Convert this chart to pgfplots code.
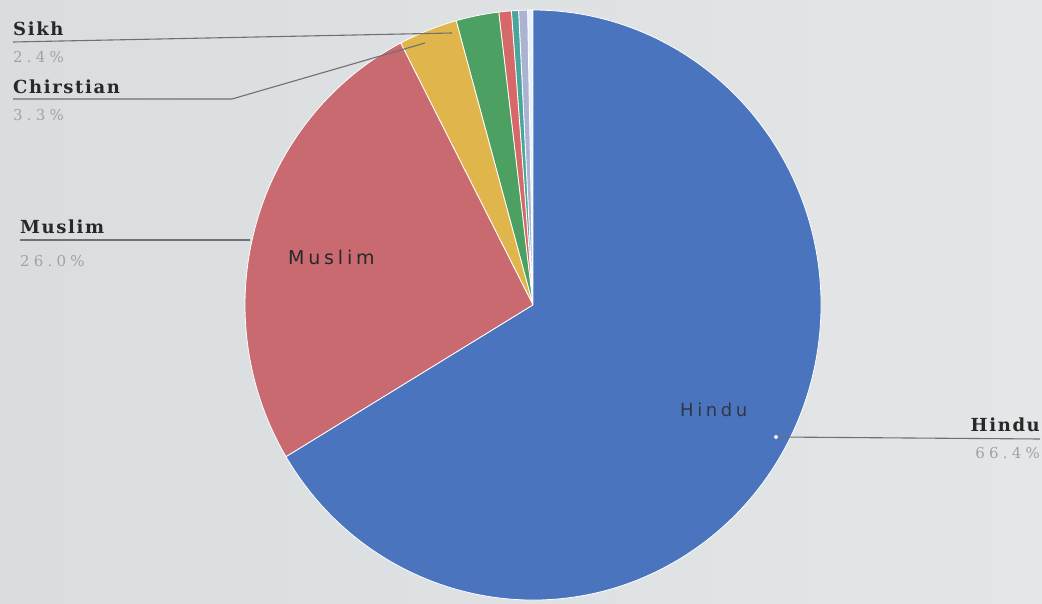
\documentclass[border=0pt]{standalone}
\usepackage{pgfplots}
\usepackage{pgfplotstable}
\usepackage{fontspec}
\pgfplotsset{compat=1.18}
\newfontfamily\headfont[LetterSpace=9]{DejaVu Serif}
\newfontfamily\pctfont[LetterSpace=28]{DejaVu Serif}
\newfontfamily\insidefont[LetterSpace=20]{DejaVu Sans}

\definecolor{bgL}{RGB}{217,221,223}
\definecolor{bgR}{RGB}{228,230,231}
\definecolor{cBlue}{RGB}{74,116,190}
\definecolor{cRed}{RGB}{201,106,112}
\definecolor{cYellow}{RGB}{224,182,76}
\definecolor{cGreen}{RGB}{76,160,98}
\definecolor{cRed2}{RGB}{214,104,104}
\definecolor{cTeal}{RGB}{74,166,156}
\definecolor{cLav}{RGB}{172,178,210}
\definecolor{cLight}{RGB}{236,240,248}
\definecolor{txt}{RGB}{40,40,40}
\definecolor{pct}{RGB}{160,162,164}
\definecolor{lead}{RGB}{110,112,114}

% slices counter-clockwise from 12 o'clock, value in percent
\pgfplotstableread{
name value color
light 0.3 cLight
lav 0.5 cLav
teal 0.4 cTeal
red 0.7 cRed2
Sikh 2.4 cGreen
Christian 3.3 cYellow
Muslim 26.0 cRed
Hindu 66.4 cBlue
}\pietable

\begin{document}
\begin{tikzpicture}
\begin{axis}[
  x=1pt, y=1pt, scale only axis,
  xmin=0, xmax=1042, ymin=0, ymax=603,
  hide axis, clip=false,
]
\fill[left color=bgL, right color=bgR] (axis cs:0,0) rectangle (axis cs:1042,603);
\xdef\acc{90}
\pgfplotsinvokeforeach{0,...,7}{
  \pgfplotstablegetelem{#1}{value}\of\pietable \let\v\pgfplotsretval
  \pgfplotstablegetelem{#1}{color}\of\pietable \let\c\pgfplotsretval
  \pgfmathsetmacro\aend{\acc+3.6*\v}
  \edef\slice{\noexpand\fill[\c, draw=white, line width=0.8pt, line join=round]
    (axis cs:533,298) -- ++(\acc:288pt and 295pt)
    arc[start angle=\acc, end angle=\aend, x radius=288pt, y radius=295pt] -- cycle;}
  \slice
  \xdef\acc{\aend}
}

% leader lines
\draw[lead, line width=1.1pt] (axis cs:13,561) -- (axis cs:452,570);
\draw[lead, line width=1.1pt] (axis cs:13,504) -- (axis cs:232,504) -- (axis cs:425,560);
\draw[lead, line width=1.1pt] (axis cs:20,363) -- (axis cs:250,363);
\draw[lead, line width=1.1pt] (axis cs:778,166) -- (axis cs:1040,164);
\fill[cLight] (axis cs:776,166) circle[radius=2pt];

% outer labels
\node[anchor=base west, inner sep=0pt, text=txt, font=\headfont\bfseries\fontsize{18}{18}\selectfont] at (axis cs:13,567) {Sikh};
\node[anchor=base west, inner sep=0pt, text=pct, font=\pctfont\fontsize{15}{15}\selectfont] at (axis cs:13,540) {2.4\%};
\node[anchor=base west, inner sep=0pt, text=txt, font=\headfont\bfseries\fontsize{18}{18}\selectfont] at (axis cs:13,509) {Chirstian};
\node[anchor=base west, inner sep=0pt, text=pct, font=\pctfont\fontsize{15}{15}\selectfont] at (axis cs:13,482) {3.3\%};
\node[anchor=base west, inner sep=0pt, text=txt, font=\headfont\bfseries\fontsize{18}{18}\selectfont] at (axis cs:20,369) {Muslim};
\node[anchor=base west, inner sep=0pt, text=pct, font=\pctfont\fontsize{15}{15}\selectfont] at (axis cs:20,336) {26.0\%};
\node[anchor=base east, inner sep=0pt, text=txt, font=\headfont\bfseries\fontsize{18}{18}\selectfont] at (axis cs:1040,172) {Hindu};
\node[anchor=base east, inner sep=0pt, text=pct, font=\pctfont\fontsize{15}{15}\selectfont] at (axis cs:1040,145) {66.4\%};

% inside labels
\node[anchor=base west, inner sep=0pt, text=txt, font=\insidefont\fontsize{19}{19}\selectfont] at (axis cs:288,338) {Muslim};
\node[anchor=base west, inner sep=0pt, text=txt!80!cBlue, font=\insidefont\fontsize{18}{18}\selectfont] at (axis cs:680,186) {Hindu};
\end{axis}
\pgfresetboundingbox
\path (current axis.south west) rectangle (current axis.north east);
\end{tikzpicture}
\end{document}
